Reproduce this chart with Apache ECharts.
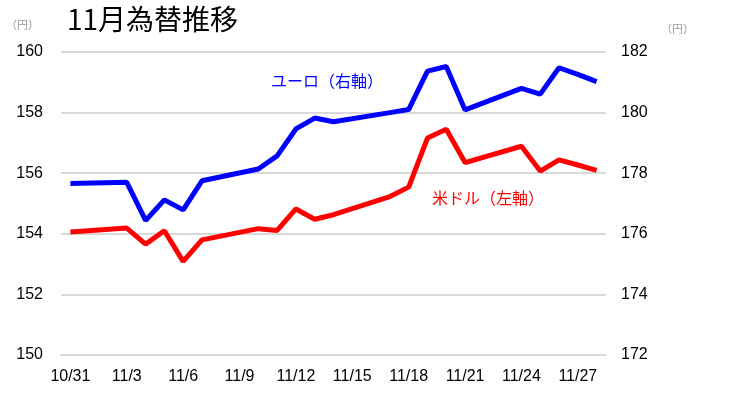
<!DOCTYPE html>
<html>
<head>
<meta charset="utf-8">
<script src="https://cdn.jsdelivr.net/npm/echarts@6/dist/echarts.min.js"></script>
<style>
	html, body { margin: 0; padding: 0; background: #fff; }
	#fxChart { width: 729px; height: 397px; }
</style>
</head>
<body>
<div id="fxChart"></div>
<script>
// 10/31 - 11/28 (土日は null)
var dayLabels = [
	'10/31', '11/1', '11/2', '11/3', '11/4', '11/5', '11/6', '11/7', '11/8', '11/9',
	'11/10', '11/11', '11/12', '11/13', '11/14', '11/15', '11/16', '11/17', '11/18', '11/19',
	'11/20', '11/21', '11/22', '11/23', '11/24', '11/25', '11/26', '11/27', '11/28',
]
var usdData = [
	154.06, null, null, 154.19, 153.66, 154.10, 153.09, 153.80, null, null,
	154.17, 154.11, 154.82, 154.48, 154.63, null, null, 155.23, 155.54, 157.16,
	157.45, 156.35, null, null, 156.89, 156.07, 156.44, 156.27, 156.09,
]
var eurData = [
	177.66, null, null, 177.70, 176.44, 177.12, 176.79, 177.75, null, null,
	178.14, 178.57, 179.46, 179.82, 179.70, null, null, 180.00, 180.10, 181.37,
	181.52, 180.09, null, null, 180.80, 180.61, 181.48, 181.26, 181.02,
]
var leftTicks = { min: 150, max: 160, interval: 2 }
var rightTicks = { min: 172, max: 182, interval: 2 }

var chartDom = document.getElementById('fxChart')
var myChart = echarts.init(chartDom)
var option

var baseFont = 'Liberation Sans, Arial, sans-serif'
var cjkFont = '"Noto Sans CJK JP", "Noto Sans", sans-serif'

option = {
	animation: false,
	title: {
		text: '11月為替推移',
		left: 62,
		top: 0,
		textStyle: {
			fontFamily: cjkFont,
			fontSize: 28,
			fontWeight: 'normal',
			color: '#000',
		},
	},
	grid: {
		left: 61,
		right: 123,
		top: 52,
		bottom: 42,
		outerBoundsMode: 'none',
		containLabel: false,
	},
	xAxis: {
		type: 'category',
		data: dayLabels,
		boundaryGap: true,
		axisLine: { lineStyle: { color: '#d9d9d9', width: 2 } },
		axisTick: { interval: 2, length: 5, lineStyle: { color: '#d9d9d9', width: 2 } },
		axisLabel: {
			interval: 2,
			margin: 14,
			color: '#000',
			fontSize: 16,
			fontFamily: baseFont,
		},
	},
	yAxis: [
		{
			type: 'value',
			min: leftTicks.min,
			max: leftTicks.max,
			interval: leftTicks.interval,
			name: '（円）',
			nameLocation: 'end',
			nameGap: 22,
			nameTextStyle: {
				color: '#999',
				fontSize: 11,
				fontFamily: cjkFont,
				align: 'right',
				padding: [0, 22, 0, 0],
			},
			axisLine: { show: false },
			axisTick: { show: false },
			axisLabel: { margin: 18, color: '#000', fontSize: 16, fontFamily: baseFont },
			splitLine: { lineStyle: { color: '#d9d9d9', width: 2 } },
		},
		{
			type: 'value',
			min: rightTicks.min,
			max: rightTicks.max,
			interval: rightTicks.interval,
			position: 'right',
			name: '（円）',
			nameLocation: 'end',
			nameGap: 18,
			nameTextStyle: {
				color: '#999',
				fontSize: 11,
				fontFamily: cjkFont,
				align: 'left',
				padding: [0, 0, 0, 55],
			},
			axisLine: { show: false },
			axisTick: { show: false },
			axisLabel: { margin: 15, color: '#000', fontSize: 16, fontFamily: baseFont },
			splitLine: { show: false },
		},
	],
	graphic: [
		{
			type: 'text',
			left: 271,
			top: 73,
			style: {
				text: 'ユーロ（右軸）',
				fill: '#0000ff',
				font: '16px ' + cjkFont,
			},
		},
		{
			type: 'text',
			left: 432,
			top: 190,
			style: {
				text: '米ドル（左軸）',
				fill: '#ff0000',
				font: '16px ' + cjkFont,
			},
		},
	],
	series: [
		{
			name: 'ユーロ',
			type: 'line',
			yAxisIndex: 1,
			data: eurData,
			connectNulls: true,
			symbol: 'none',
			lineStyle: { color: '#0000ff', width: 5 },
		},
		{
			name: '米ドル',
			type: 'line',
			yAxisIndex: 0,
			data: usdData,
			connectNulls: true,
			symbol: 'none',
			lineStyle: { color: '#ff0000', width: 5 },
		},
	],
}

option && myChart.setOption(option)
</script>
</body>
</html>
